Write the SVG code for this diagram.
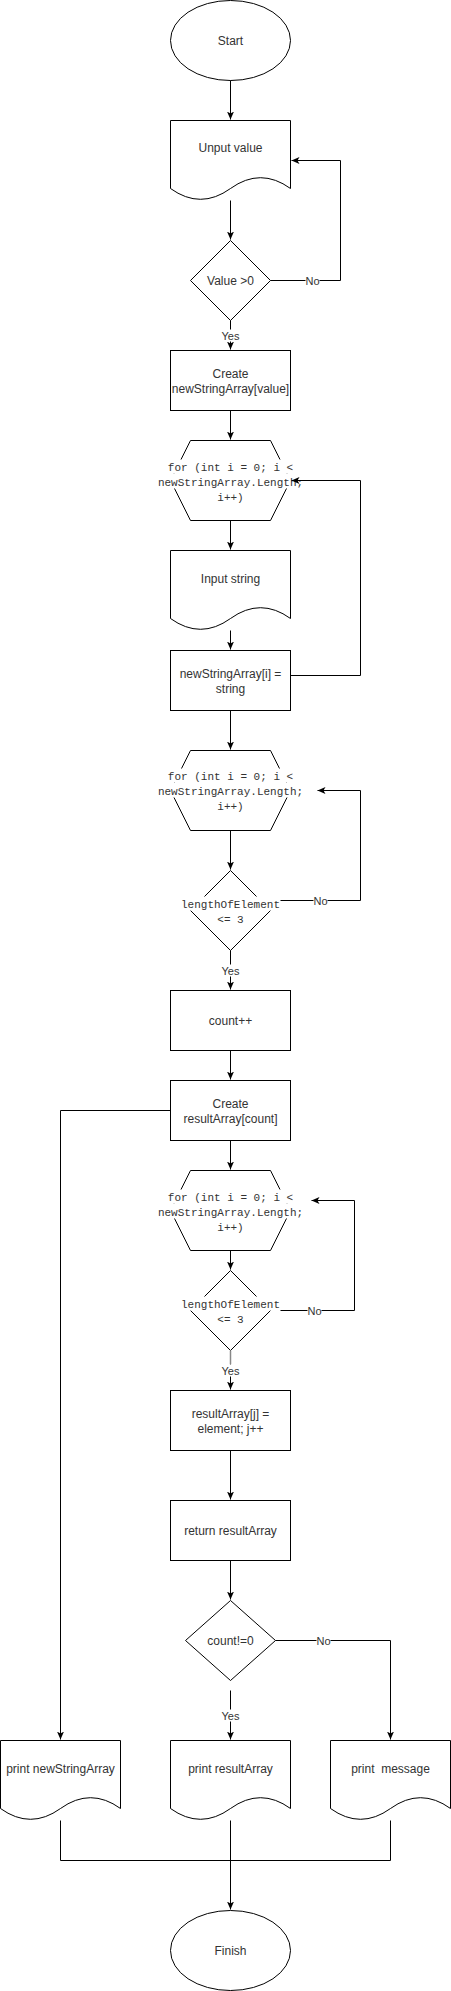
<svg xmlns="http://www.w3.org/2000/svg" width="451" height="1991" viewBox="0 0 451 1991">
<style>
.s{fill:#fff;stroke:#000;stroke-width:1}
.t{font-family:"Liberation Sans",Arial,sans-serif;font-size:12px;fill:#333;text-anchor:middle}
.m{font-family:"Liberation Mono","DejaVu Sans Mono",monospace;font-size:11px;fill:#333;text-anchor:middle}
.l{font-family:"Liberation Sans",Arial,sans-serif;font-size:11px;fill:#333;text-anchor:middle}
.e{fill:none;stroke:#000;stroke-width:1}
.bg{fill:#fff;stroke:none}
</style>
<defs>
<marker id="a" markerUnits="userSpaceOnUse" markerWidth="9" markerHeight="8" refX="8" refY="4" orient="auto">
<path d="M0,0.5 L8,4 L0,7.5 L2,4 Z" fill="#000"/>
</marker>
</defs>
<rect width="451" height="1991" fill="#fff"/>
<g transform="translate(0.5,0.5)">
<g id="start"><ellipse class="s" cx="230" cy="40" rx="60" ry="40"/><text class="t" x="230" y="44">Start</text></g>
<g id="unput"><path class="s" d="M170,120 H290 V188 Q260,166.4 230,188 Q200,209.6 170,188 Z"/><text class="t" x="230" y="151">Unput value</text></g>
<g id="value"><path class="s" d="M230,240 L270,280 L230,320 L190,280 Z"/><text class="t" x="230" y="284">Value &gt;0</text></g>
<g id="create1"><rect class="s" x="170" y="350" width="120" height="60"/><text class="t" x="230" y="377">Create</text><text class="t" x="230" y="392">newStringArray[value]</text></g>
<g id="for1"><path class="s" d="M190,440 H270 L290,480 L270,520 H190 L170,480 Z"/>
<rect class="bg" x="167" y="459" width="126" height="14"/><rect class="bg" x="157" y="473" width="146" height="15"/><rect class="bg" x="216" y="488" width="27" height="15"/>
<text class="m" x="230" y="470">for (int i = 0; i &lt;</text><text class="m" x="230" y="485">newStringArray.Length;</text><text class="m" x="230" y="500">i++)</text></g>
<g id="input"><path class="s" d="M170,550 H290 V618 Q260,596.4 230,618 Q200,639.6 170,618 Z"/><text class="t" x="230" y="582">Input string</text></g>
<g id="assign"><rect class="s" x="170" y="650" width="120" height="60"/><text class="t" x="230" y="677">newStringArray[i] =</text><text class="t" x="230" y="692">string</text></g>
<g id="for2"><path class="s" d="M190,750 H270 L290,790 L270,830 H190 L170,790 Z"/>
<rect class="bg" x="167" y="768" width="126" height="14"/><rect class="bg" x="157" y="782" width="146" height="15"/><rect class="bg" x="216" y="797" width="27" height="15"/>
<text class="m" x="230" y="779">for (int i = 0; i &lt;</text><text class="m" x="230" y="794">newStringArray.Length;</text><text class="m" x="230" y="809">i++)</text></g>
<g id="cond1"><path class="s" d="M230,870 L270,910 L230,950 L190,910 Z"/>
<rect class="bg" x="180" y="896" width="100" height="14"/><rect class="bg" x="216" y="911" width="28" height="14"/>
<text class="m" x="230" y="907">lengthOfElement</text><text class="m" x="230" y="922">&lt;= 3</text></g>
<g id="count"><rect class="s" x="170" y="990" width="120" height="60"/><text class="t" x="230" y="1024">count++</text></g>
<g id="create2"><rect class="s" x="170" y="1080" width="120" height="60"/><text class="t" x="230" y="1107">Create</text><text class="t" x="230" y="1122">resultArray[count]</text></g>
<g id="for3"><path class="s" d="M190,1170 H270 L290,1210 L270,1250 H190 L170,1210 Z"/>
<rect class="bg" x="167" y="1189" width="126" height="14"/><rect class="bg" x="157" y="1203" width="146" height="15"/><rect class="bg" x="216" y="1218" width="27" height="15"/>
<text class="m" x="230" y="1200">for (int i = 0; i &lt;</text><text class="m" x="230" y="1215">newStringArray.Length;</text><text class="m" x="230" y="1230">i++)</text></g>
<g id="cond2"><path class="s" d="M230,1270 L270,1310 L230,1350 L190,1310 Z"/>
<rect class="bg" x="180" y="1296" width="100" height="14"/><rect class="bg" x="216" y="1311" width="28" height="14"/>
<text class="m" x="230" y="1307">lengthOfElement</text><text class="m" x="230" y="1322">&lt;= 3</text></g>
<g id="assign2"><rect class="s" x="170" y="1390" width="120" height="60"/><text class="t" x="230" y="1417">resultArray[j] =</text><text class="t" x="230" y="1432">element; j++</text></g>
<g id="return"><rect class="s" x="170" y="1500" width="120" height="60"/><text class="t" x="230" y="1534">return resultArray</text></g>
<g id="cond3"><path class="s" d="M230,1600 L275,1640 L230,1680 L185,1640 Z"/><text class="t" x="230" y="1644">count!=0</text></g>
<g id="printNew"><path class="s" d="M0,1740 H120 V1808 Q90,1786.4 60,1808 Q30,1829.6 0,1808 Z"/><text class="t" x="60" y="1772">print newStringArray</text></g>
<g id="printResult"><path class="s" d="M170,1740 H290 V1808 Q260,1786.4 230,1808 Q200,1829.6 170,1808 Z"/><text class="t" x="230" y="1772">print resultArray</text></g>
<g id="printMessage"><path class="s" d="M330,1740 H450 V1808 Q420,1786.4 390,1808 Q360,1829.6 330,1808 Z"/><text class="t" x="390" y="1772" xml:space="preserve">print  message</text></g>
<g id="finish"><ellipse class="s" cx="230" cy="1950" rx="60" ry="40"/><text class="t" x="230" y="1954">Finish</text></g>
<g id="connectors">
<path class="e" d="M230,80 V119" marker-end="url(#a)"/>
<path class="e" d="M230,200 V239" marker-end="url(#a)"/>
<path class="e" d="M270,280 H340 V160 H291" marker-end="url(#a)"/>
<path class="e" d="M230,320 V349" marker-end="url(#a)"/>
<path class="e" d="M230,410 V439" marker-end="url(#a)"/>
<path class="e" d="M230,520 V549" marker-end="url(#a)"/>
<path class="e" d="M230,630 V649" marker-end="url(#a)"/>
<path class="e" d="M290,675 H360 V480 H291" marker-end="url(#a)"/>
<path class="e" d="M230,710 V749" marker-end="url(#a)"/>
<path class="e" d="M230,830 V869" marker-end="url(#a)"/>
<path class="e" d="M280,900 H360 V790 H317" marker-end="url(#a)"/>
<path class="e" d="M230,950 V989" marker-end="url(#a)"/>
<path class="e" d="M230,1050 V1079" marker-end="url(#a)"/>
<path class="e" d="M170,1110 H60 V1739" marker-end="url(#a)"/>
<path class="e" d="M230,1140 V1169" marker-end="url(#a)"/>
<path class="e" d="M230,1250 V1269" marker-end="url(#a)"/>
<path class="e" d="M280,1310 H354 V1200 H311" marker-end="url(#a)"/>
<path class="e" d="M230,1363 V1389" marker-end="url(#a)"/>
<path d="M230,1350 V1364" fill="none" stroke="#888" stroke-width="1.5"/>
<path class="e" d="M230,1450 V1499" marker-end="url(#a)"/>
<path class="e" d="M230,1560 V1599" marker-end="url(#a)"/>
<path class="e" d="M275,1640 H390 V1739" marker-end="url(#a)"/>
<path class="e" d="M230,1690 V1739" marker-end="url(#a)"/>
<path class="e" d="M60,1820 V1860 H390 V1820"/>
<path class="e" d="M230,1820 V1909" marker-end="url(#a)"/>
<rect class="bg" x="223" y="329" width="15" height="12"/><text class="l" x="230" y="339">Yes</text>
<rect class="bg" x="305" y="274" width="14" height="12"/><text class="l" x="312" y="284">No</text>
<rect class="bg" x="313" y="894" width="14" height="12"/><text class="l" x="320" y="904">No</text>
<rect class="bg" x="222" y="964" width="16" height="12"/><text class="l" x="230" y="974">Yes</text>
<rect class="bg" x="307" y="1304" width="14" height="12"/><text class="l" x="314" y="1314">No</text>
<rect class="bg" x="222" y="1364" width="16" height="12"/><text class="l" x="230" y="1374">Yes</text>
<rect class="bg" x="316" y="1634" width="14" height="12"/><text class="l" x="323" y="1644">No</text>
<rect class="bg" x="222" y="1709" width="16" height="12"/><text class="l" x="230" y="1719">Yes</text>
</g>
</g>
</svg>
